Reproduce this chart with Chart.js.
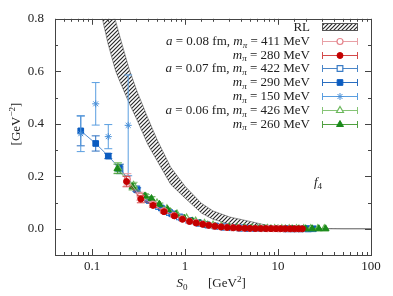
<!DOCTYPE html>
<html>
<head>
<meta charset="utf-8">
<script src="https://cdn.jsdelivr.net/npm/chart.js@4.4.1/dist/chart.umd.min.js"></script>
<style>
  html, body { margin: 0; padding: 0; background: #fff; }
</style>
</head>
<body>
<canvas id="chart" width="393" height="296"></canvas>
<script>
// RL band (hatched), lower and upper edge
const rlS0 = [0.10, 0.12, 0.15, 0.18, 0.2, 0.25, 0.3, 0.4, 0.5, 0.7, 1.0, 1.5, 2, 3, 5, 7, 10, 20, 50, 100];
const rlUpper = [1.25, 1.02, 0.88, 0.79, 0.73, 0.61, 0.53, 0.42, 0.34, 0.235, 0.162, 0.097, 0.068, 0.045, 0.028, 0.016, 0.008, 0.002, 0, 0];
const rlLower = [1.00, 0.85, 0.70, 0.60, 0.56, 0.48, 0.42, 0.32, 0.26, 0.17, 0.117, 0.06, 0.036, 0.018, 0.007, 0.003, 0.001, 0, 0, 0];

// a = 0.08 fm
const s0_411 = [0.24, 0.33, 0.45, 0.59, 0.76, 0.93, 1.11, 1.31, 1.54, 1.79, 2.08, 2.42, 2.8, 3.25, 3.75, 4.35, 5.0, 5.8, 6.7, 7.7, 8.9, 10.2, 11.7, 13.4, 15.3, 17.5];
const f4_411 = [0.188, 0.124, 0.094, 0.068, 0.051, 0.038, 0.029, 0.023, 0.018, 0.014, 0.010, 0.0075, 0.0055, 0.004, 0.003, 0.002, 0.0015, 0.001, 0.0007, 0.0005, 0.0003, 0.0002, 0.0001, 0, 0, 0];
const err_411 = [0.022, 0.015, 0.008, 0.006, 0.004, 0.003, 0.002, 0.002];

const s0_280 = [0.235, 0.335, 0.453, 0.595, 0.77, 0.94, 1.12, 1.32, 1.55, 1.8, 2.1, 2.45, 2.85, 3.3, 3.8, 4.4, 5.0, 5.7, 6.5, 7.4, 8.4, 9.5, 10.7, 12.0, 13.5, 15.0, 16.6, 18.3];
const f4_280 = [0.180, 0.113, 0.089, 0.065, 0.049, 0.036, 0.028, 0.022, 0.017, 0.013, 0.010, 0.007, 0.005, 0.004, 0.003, 0.002, 0.0015, 0.001, 0.0008, 0.0005, 0.0004, 0.0003, 0.0002, 0.0001, 0, 0, 0, 0];
const err_280 = [0.02, 0.014, 0.007, 0.005, 0.004, 0.003, 0.002, 0.002];

// a = 0.07 fm
const s0_422 = [0.2, 0.3, 0.4, 0.52, 0.68, 0.87, 1.1, 1.38, 1.7, 2.1, 2.6, 3.2, 3.9, 4.8, 5.8, 7.0, 8.5, 10.2, 12.3, 14.7, 17.5, 21];
const f4_422 = [0.228, 0.152, 0.112, 0.085, 0.062, 0.045, 0.032, 0.023, 0.016, 0.011, 0.0075, 0.005, 0.003, 0.002, 0.0012, 0.0008, 0.0005, 0.0003, 0.0001, 0, 0, 0];
const err_422 = [0.018, 0.01, 0.007, 0.005, 0.004, 0.003, 0.002];

const s0_290 = [0.0757, 0.1096, 0.1496, 0.196, 0.306, 0.41, 0.557, 0.72, 0.92, 1.15, 1.42, 1.75, 2.15, 2.6, 3.2, 3.9, 4.7, 5.7, 6.9, 8.3, 10.0, 12.0, 14.5, 17.5, 21.0, 24.0];
const f4_290 = [0.373, 0.325, 0.277, 0.232, 0.148, 0.108, 0.079, 0.057, 0.041, 0.030, 0.021, 0.014, 0.009, 0.006, 0.004, 0.0025, 0.0015, 0.001, 0.0006, 0.0004, 0.0002, 0.0001, 0, 0, 0, 0];
const err_290 = [0.057, 0.029, 0.01, 0.012, 0.008, 0.006, 0.004, 0.003, 0.002];

const s0_150 = [0.0757, 0.1096, 0.1496, 0.245];
const f4_150 = [0.362, 0.476, 0.351, 0.394];
const err_150 = [0.068, 0.081, 0.046, 0.192];

// a = 0.06 fm
const s0_426 = [0.19, 0.28, 0.38, 0.5, 0.64, 0.82, 1.04, 1.3, 1.62, 2.0, 2.45, 3.0, 3.65, 4.4, 5.3, 6.4, 7.7, 9.2, 11, 13.2, 15.8, 18.9, 22.5, 26.8, 31.5];
const f4_426 = [0.232, 0.165, 0.122, 0.098, 0.076, 0.056, 0.041, 0.029, 0.020, 0.014, 0.0095, 0.0065, 0.0045, 0.003, 0.002, 0.0012, 0.0008, 0.0005, 0.0003, 0.0001, 0, 0, 0, 0, 0];
const err_426 = [0.02, 0.012, 0.008, 0.006, 0.004, 0.003, 0.002];

const s0_260 = [0.188, 0.273, 0.37, 0.436, 0.53, 0.65, 0.8, 0.98, 1.2, 1.45, 1.75, 2.1, 2.5, 3.0, 3.6, 4.3, 5.1, 6.0, 7.1, 8.4, 10.0, 12.0, 14.2, 16.8, 19.8, 23.3, 27.5, 32.5];
const f4_260 = [0.228, 0.160, 0.125, 0.115, 0.093, 0.073, 0.055, 0.040, 0.030, 0.021, 0.015, 0.010, 0.007, 0.005, 0.003, 0.002, 0.0012, 0.0008, 0.0005, 0.0003, 0.0002, 0.0001, 0, 0, 0, 0, 0, 0];
const err_260 = [0.018, 0.012, 0.008, 0.007, 0.005, 0.004, 0.003, 0.002, 0.002];

const seriesNames = ['RL', '*a* = 0.08 fm, *m_π* = 411 MeV', '*m_π* = 280 MeV', '*a* = 0.07 fm, *m_π* = 422 MeV',
  '*m_π* = 290 MeV', '*m_π* = 150 MeV', '*a* = 0.06 fm, *m_π* = 426 MeV', '*m_π* = 260 MeV'];
const xTickLabels = [0.1, 1, 10, 100];

const FONT = '"Liberation Serif", "DejaVu Serif", serif';

function pts(xs, ys) {
  return xs.map((x, i) => ({ x: x, y: ys[i] }));
}

function hatch() {
  const c = document.createElement('canvas');
  c.width = 4; c.height = 4;
  const g = c.getContext('2d');
  g.strokeStyle = '#2a2a2a';
  g.lineWidth = 1.2;
  g.beginPath();
  g.moveTo(0, 4); g.lineTo(4, 0);
  g.moveTo(-1, 1); g.lineTo(1, -1);
  g.moveTo(3, 5); g.lineTo(5, 3);
  g.stroke();
  return g.createPattern(c, 'repeat');
}
const hatchFill = hatch();

function series(name, xs, ys, errs, color, barColor, style, open, radius, order, line) {
  return {
    label: name,
    data: pts(xs, ys),
    errors: errs,
    errColor: barColor,
    showLine: line,
    borderColor: barColor,
    borderWidth: 0.8,
    pointStyle: style,
    pointRadius: radius,
    pointBorderColor: color,
    pointBackgroundColor: open ? '#fff' : color,
    pointBorderWidth: open ? 1.2 : 1,
    order: order
  };
}

const datasets = [
  { label: 'RL up', data: pts(rlS0, rlUpper), showLine: true, pointRadius: 0, borderColor: '#555', borderWidth: 0.6,
    backgroundColor: hatchFill, fill: '+1', order: 9 },
  { label: 'RL low', data: pts(rlS0, rlLower), showLine: true, pointRadius: 0, borderColor: '#555', borderWidth: 0.6,
    fill: false, order: 10 },
  series(seriesNames[1], s0_411, f4_411, err_411, '#e5848c', '#e8a0a6', 'circle', true, 3, 2, true),
  series(seriesNames[2], s0_280, f4_280, err_280, '#c40000', '#d44a4a', 'circle', false, 3, 1, true),
  series(seriesNames[3], s0_422, f4_422, err_422, '#3a7cc6', '#4a86c8', 'rect', true, 4, 7, true),
  series(seriesNames[4], s0_290, f4_290, err_290, '#0b5cc0', '#2a6ec0', 'rect', false, 4, 6, true),
  series(seriesNames[5], s0_150, f4_150, err_150, '#4a90d8', '#5a9ee0', 'star', false, 3.5, 5, false),
  series(seriesNames[6], s0_426, f4_426, err_426, '#6cb85c', '#86c476', 'triangle', true, 4, 4, true),
  series(seriesNames[7], s0_260, f4_260, err_260, '#1a8a1a', '#50a040', 'triangle', false, 4, 3, true)
];

// error bars drawn just below each dataset's markers
const errorBars = {
  id: 'errorBars',
  beforeDatasetDraw(chart, args) {
    const ds = chart.data.datasets[args.index];
    if (!ds.errors) return;
    const xs = chart.scales.x, ys = chart.scales.y, a = chart.chartArea;
    const ctx = chart.ctx;
    ctx.save();
    ctx.beginPath();
    ctx.rect(a.left, a.top, a.right - a.left, a.bottom - a.top);
    ctx.clip();
    ctx.strokeStyle = ds.errColor;
    ctx.lineWidth = 1;
    ds.data.forEach((p, i) => {
      const e = ds.errors[i] || 0;
      const px = xs.getPixelForValue(p.x);
      const y1 = ys.getPixelForValue(p.y + e);
      const y2 = ys.getPixelForValue(p.y - e);
      if (y2 - y1 < 2) return;
      ctx.beginPath();
      ctx.moveTo(px, y1); ctx.lineTo(px, y2);
      ctx.moveTo(px - 4, y1); ctx.lineTo(px + 4, y1);
      ctx.moveTo(px - 4, y2); ctx.lineTo(px + 4, y2);
      ctx.stroke();
    });
    ctx.restore();
  }
};

// *x* italic, _c subscript, ^{..} superscript
function parseRich(s) {
  const segs = [];
  let it = false, buf = '';
  const flush = () => { if (buf) segs.push({ t: buf, it: it }); buf = ''; };
  for (let i = 0; i < s.length; i++) {
    const ch = s[i];
    if (ch === '*') { flush(); it = !it; }
    else if (ch === '_') { flush(); segs.push({ t: s[++i], it: it, sub: true }); }
    else if (ch === '^') {
      flush();
      const end = s.indexOf('}', i);
      segs.push({ t: s.slice(i + 2, end), it: it, sup: true });
      i = end;
    }
    else buf += ch;
  }
  flush();
  return segs;
}

function drawRich(ctx, str, x, y, size, align) {
  const segs = parseRich(str);
  const fontOf = s => (s.it ? 'italic ' : '') + (s.sub || s.sup ? size * 0.7 : size) + 'px ' + FONT;
  let w = 0;
  segs.forEach(s => { ctx.font = fontOf(s); s.w = ctx.measureText(s.t).width; w += s.w; });
  let cx = align === 'right' ? x - w : align === 'center' ? x - w / 2 : x;
  ctx.textAlign = 'left';
  ctx.textBaseline = 'alphabetic';
  segs.forEach(s => {
    ctx.font = fontOf(s);
    const dy = s.sub ? size * 0.22 : s.sup ? -size * 0.4 : 0;
    ctx.fillText(s.t, cx, y + dy);
    cx += s.w;
  });
}

// frame, inward ticks on all sides, axis titles, legend, panel label
const decor = {
  id: 'decor',
  afterDatasetsDraw(chart) {
    const ctx = chart.ctx, a = chart.chartArea;
    const xs = chart.scales.x, ys = chart.scales.y;
    ctx.save();
    ctx.strokeStyle = '#444';
    ctx.lineWidth = 1;
    ctx.beginPath();
    xs.ticks.forEach(t => {
      const v = t.value;
      const major = Math.abs(Math.log10(v) - Math.round(Math.log10(v))) < 1e-6;
      const len = major ? 6 : 3;
      const px = Math.round(xs.getPixelForValue(v)) + 0.5;
      ctx.moveTo(px, a.bottom); ctx.lineTo(px, a.bottom - len);
      ctx.moveTo(px, a.top); ctx.lineTo(px, a.top + len);
    });
    ys.ticks.forEach(t => {
      const r = Math.round(t.value * 10);
      const len = (r % 2 === 0) ? 6 : 3;
      const py = Math.round(ys.getPixelForValue(t.value)) + 0.5;
      ctx.moveTo(a.left, py); ctx.lineTo(a.left + len, py);
      ctx.moveTo(a.right, py); ctx.lineTo(a.right - len, py);
    });
    ctx.stroke();
    ctx.strokeRect(Math.round(a.left) + 0.5, Math.round(a.top) + 0.5, Math.round(a.right - a.left), Math.round(a.bottom - a.top));
    ctx.restore();
  },
  afterDraw(chart) {
    const ctx = chart.ctx;
    ctx.save();
    ctx.fillStyle = '#222';
    // axis titles
    drawRich(ctx, '*S*_0', 182, 287, 13, 'center');
    drawRich(ctx, '[GeV^{2}]', 208, 287, 13, 'left');
    ctx.save();
    ctx.translate(20, 124);
    ctx.rotate(-Math.PI / 2);
    drawRich(ctx, '[GeV^{−2}]', 0, 0, 13, 'center');
    ctx.restore();
    drawRich(ctx, '*f*_4', 314, 186, 13, 'left');

    // legend
    const x0 = 322, x1 = 358, xm = 340;
    seriesNames.forEach((name, i) => {
      const yc = 27 + i * 13.8;
      ctx.fillStyle = '#222';
      drawRich(ctx, name, 310, yc + 4, 13, 'right');
      if (i === 0) {
        ctx.fillStyle = hatchFill;
        ctx.fillRect(x0, yc - 3.5, x1 - x0, 7);
        ctx.strokeStyle = '#555';
        ctx.lineWidth = 1;
        ctx.strokeRect(x0 + 0.5, yc - 3.5, x1 - x0 - 1, 7);
        return;
      }
      const ds = chart.data.datasets[i + 1];
      const y = Math.round(yc) + 0.5;
      ctx.strokeStyle = ds.errColor;
      ctx.lineWidth = 1;
      ctx.beginPath();
      ctx.moveTo(x0, y); ctx.lineTo(x1, y);
      ctx.moveTo(x0 + 0.5, y - 3.5); ctx.lineTo(x0 + 0.5, y + 3.5);
      ctx.moveTo(x1 - 0.5, y - 3.5); ctx.lineTo(x1 - 0.5, y + 3.5);
      ctx.stroke();
      ctx.fillStyle = ds.pointBackgroundColor;
      ctx.strokeStyle = ds.pointBorderColor;
      ctx.lineWidth = ds.pointBorderWidth;
      Chart.helpers.drawPoint(ctx, { pointStyle: ds.pointStyle, radius: ds.pointRadius, rotation: 0, borderWidth: ds.pointBorderWidth }, xm, y);
    });
    ctx.restore();
  }
};

new Chart(document.getElementById('chart'), {
  type: 'scatter',
  data: { datasets: datasets },
  plugins: [errorBars, decor],
  options: {
    responsive: false,
    animation: false,
    layout: { padding: { left: 0, top: 14, right: 22, bottom: 0 } },
    plugins: { legend: { display: false }, tooltip: { enabled: false } },
    scales: {
      x: {
        type: 'logarithmic',
        min: 0.04,
        max: 100,
        afterFit: s => { s.height = 41; },
        grid: { display: false, drawTicks: false, tickLength: 0 },
        border: { display: false },
        ticks: {
          autoSkip: false,
          maxRotation: 0,
          padding: 4,
          color: '#222',
          font: { family: FONT, size: 13 },
          callback: v => {
            const hit = xTickLabels.find(t => Math.abs(t - v) < t * 1e-6);
            return hit !== undefined ? String(hit) : '';
          }
        }
      },
      y: {
        min: -0.1,
        max: 0.8,
        afterFit: s => { s.width = 55; },
        grid: { display: false, drawTicks: false, tickLength: 0 },
        border: { display: false },
        ticks: {
          stepSize: 0.1,
          padding: 11,
          color: '#222',
          font: { family: FONT, size: 13 },
          callback: v => {
            const r = Math.round(v * 10);
            return (r >= 0 && r % 2 === 0) ? (r / 10).toFixed(1) : '';
          }
        }
      }
    }
  }
});
</script>
</body>
</html>
